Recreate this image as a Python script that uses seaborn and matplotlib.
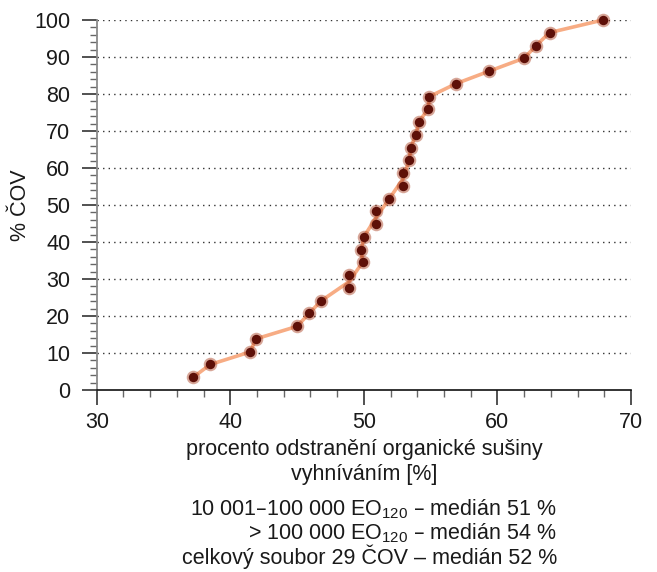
import numpy as np
import pandas as pd
import matplotlib
matplotlib.use("Agg")
import matplotlib.pyplot as plt
from matplotlib.ticker import MultipleLocator
import seaborn as sns

# Removal of organic dry matter by digestion (sorted), one point per plant
removal_pct = [37.2, 38.5, 41.5, 41.9, 45.0, 45.9, 46.8, 48.9, 48.9, 49.9,
               49.8, 50.0, 50.9, 50.9, 51.9, 52.9, 52.9, 53.4, 53.5, 53.9,
               54.1, 54.8, 54.9, 56.9, 59.4, 62.0, 62.9, 63.9, 67.9]
# Cumulative share of plants [% ČOV]
cumulative_pct = [3.4, 6.9, 10.3, 13.8, 17.2, 20.7, 24.1, 27.6, 31.0, 34.5,
                  37.9, 41.4, 44.8, 48.3, 51.7, 55.2, 58.6, 62.1, 65.5, 69.0,
                  72.4, 75.9, 79.3, 82.8, 86.2, 89.7, 93.1, 96.6, 100.0]
x_ticks = [30, 40, 50, 60, 70]
y_ticks = [0, 10, 20, 30, 40, 50, 60, 70, 80, 90, 100]
x_label = "procento odstranění organické sušiny\nvyhníváním [%]"
y_label = "% ČOV"
notes = ["10 001–100 000 EO$_{120}$ – medián 51 %",
         "> 100 000 EO$_{120}$ – medián 54 %",
         "celkový soubor 29 ČOV – medián 52 %"]

df = pd.DataFrame({"x": removal_pct, "y": cumulative_pct})

sns.set_style("white")
plt.rcParams["font.family"] = ["Liberation Sans", "DejaVu Sans"]
plt.rcParams["mathtext.default"] = "regular"

FS = 15.5
TXT = "#1a1a1a"

fig = plt.figure(figsize=(6.57, 5.72), dpi=100)
ax = fig.add_axes([0.1473, 0.3182, 0.8131, 0.6468])

# dotted horizontal guides
for v in y_ticks[1:]:
    ax.axhline(v, color="#333333", lw=1.0, ls=(0, (1, 3)), zorder=1)

sns.lineplot(data=df, x="x", y="y", ax=ax, color="#f7ac84", lw=2.6,
             sort=False, zorder=2, clip_on=False)
# soft halo + dark core for each point
sns.scatterplot(data=df, x="x", y="y", ax=ax, s=95, color="#a83a1c",
                alpha=0.45, linewidth=0, zorder=3, clip_on=False)
sns.scatterplot(data=df, x="x", y="y", ax=ax, s=46, color="#5e1008",
                linewidth=0, zorder=4, clip_on=False)

ax.set_xlim(30, 70)
ax.set_ylim(0, 100)
ax.set_xticks(x_ticks)
ax.set_yticks(y_ticks)
ax.xaxis.set_minor_locator(MultipleLocator(2))
ax.yaxis.set_minor_locator(MultipleLocator(2))

for s in ["top", "right"]:
    ax.spines[s].set_visible(False)
ax.spines["left"].set_color("#8a8a8a")
ax.spines["left"].set_linewidth(1.3)
ax.spines["bottom"].set_color("#111111")
ax.spines["bottom"].set_linewidth(1.2)

ax.tick_params(axis="both", which="both", bottom=True, left=True,
               top=False, right=False)
ax.tick_params(axis="both", which="major", direction="out", length=11,
               width=1.1, color="#222222", labelsize=FS, labelcolor=TXT)
ax.tick_params(axis="x", which="major", pad=5)
ax.tick_params(axis="y", which="major", pad=8)
ax.tick_params(axis="both", which="minor", direction="out", length=5,
               width=1.0, color="#666666")

ax.set_xlabel(x_label, fontsize=FS, color=TXT, labelpad=4, linespacing=1.25)
ax.set_ylabel(y_label, fontsize=FS, color=TXT)
ax.yaxis.set_label_coords(-0.123, 0.5)

for i, line in enumerate(notes):
    fig.text(557 / 657, 1 - (509 + 24 * i) / 572, line, ha="right",
             va="center", fontsize=FS, color=TXT)

fig.savefig("out.png", dpi=100)
